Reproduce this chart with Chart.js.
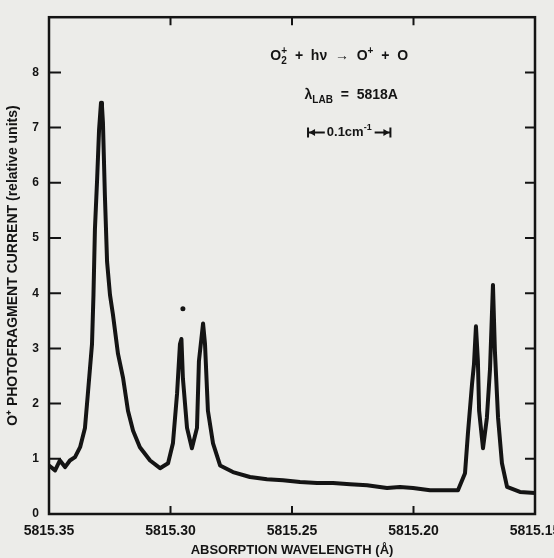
<!DOCTYPE html>
<html>
<head>
<meta charset="utf-8">
<script src="https://cdn.jsdelivr.net/npm/chart.js@4/dist/chart.umd.min.js"></script>
<style>
  html, body { margin: 0; padding: 0; background: #ecece9; }
  canvas { display: block; }
</style>
</head>
<body>
<canvas id="graph" width="554" height="558"></canvas>
<script>
// absorption wavelength (A) and O+ photofragment current (relative units)
const wavelength = [
    5815.3500, 5815.3475, 5815.3455, 5815.3434, 5815.3414, 5815.3393, 5815.3372, 5815.3352,
    5815.3340, 5815.3323, 5815.3317, 5815.3311, 5815.3302, 5815.3294, 5815.3286, 5815.3282,
    5815.3278, 5815.3270, 5815.3261, 5815.3249, 5815.3237, 5815.3216, 5815.3195, 5815.3175,
    5815.3154, 5815.3126, 5815.3084, 5815.3043, 5815.3010, 5815.2990, 5815.2973, 5815.2961,
    5815.2955, 5815.2949, 5815.2932, 5815.2912, 5815.2891, 5815.2883, 5815.2866, 5815.2858,
    5815.2846, 5815.2825, 5815.2796, 5815.2743, 5815.2673, 5815.2603, 5815.2537, 5815.2467,
    5815.2397, 5815.2331, 5815.2261, 5815.2191, 5815.2109, 5815.2056, 5815.2002, 5815.1932,
    5815.1817, 5815.1788, 5815.1776, 5815.1759, 5815.1751, 5815.1743, 5815.1735, 5815.1730,
    5815.1714, 5815.1698, 5815.1685, 5815.1673, 5815.1665, 5815.1652, 5815.1636, 5815.1615,
    5815.1562, 5815.1500
];
const current = [
    0.88, 0.79, 0.97, 0.85, 0.97, 1.03, 1.21, 1.56,
    2.18, 3.08, 3.97, 5.16, 6.06, 6.96, 7.45, 7.39,
    7.09, 5.77, 4.57, 3.97, 3.62, 2.90, 2.46, 1.87,
    1.51, 1.21, 0.97, 0.83, 0.92, 1.28, 2.18, 3.08,
    3.17, 2.46, 1.56, 1.19, 1.56, 2.77, 3.45, 3.08,
    1.87, 1.28, 0.88, 0.76, 0.67, 0.63, 0.61, 0.58,
    0.56, 0.56, 0.54, 0.52, 0.47, 0.49, 0.47, 0.43,
    0.43, 0.74, 1.46, 2.36, 2.72, 3.40, 2.77, 1.87,
    1.19, 1.74, 2.64, 4.15, 2.95, 1.74, 0.92, 0.49,
    0.40, 0.38
];
// the little dot marking the first small line
const dotWavelength = [5815.2949];
const dotCurrent = [3.72];

const xTicks = [5815.35, 5815.30, 5815.25, 5815.20, 5815.15];
const yTicks = [0, 1, 2, 3, 4, 5, 6, 7, 8];

const ink = "#141414";
const fontFamily = '"Liberation Sans", Arial, sans-serif';

// 0.1 cm-1 at 5818 A is about 0.0339 A
const barStart = 5815.2434;
const barWidth = 0.0339;

function drawRuns(ctx, runs, cx, cy, size) {
    const parts = runs.map(([text, kind]) => {
        const s = kind === "n" ? size : Math.round(size * 0.72);
        ctx.font = `bold ${s}px ${fontFamily}`;
        return {text, kind, s, w: ctx.measureText(text).width};
    });
    let total = 0;
    parts.forEach((p, i) => {
        const stacked = p.kind === "sup" && i > 0 && parts[i - 1].kind === "sub";
        if (stacked) {
            p.stack = true;
            total += Math.max(0, p.w - parts[i - 1].w);
        } else {
            total += p.w;
        }
    });
    let x = cx - total / 2;
    ctx.textBaseline = "middle";
    ctx.textAlign = "left";
    parts.forEach((p, i) => {
        ctx.font = `bold ${p.s}px ${fontFamily}`;
        let dy = 0;
        if (p.kind === "sub") dy = size * 0.35;
        if (p.kind === "sup") dy = -size * 0.35;
        if (p.stack) {
            const prev = parts[i - 1];
            ctx.fillText(p.text, x - prev.w, cy + dy);
            x += Math.max(0, p.w - prev.w);
        } else {
            ctx.fillText(p.text, x, cy + dy);
            x += p.w;
        }
    });
}

const framePlugin = {
    id: "frame",
    afterDatasetsDraw(chart) {
        const {ctx, chartArea: a, scales: {x, y}} = chart;
        ctx.save();
        ctx.strokeStyle = ink;
        ctx.lineWidth = 2.5;
        ctx.strokeRect(a.left, a.top, a.right - a.left, a.bottom - a.top);
        ctx.lineWidth = 2;
        ctx.beginPath();
        x.ticks.forEach(t => {
            const px = x.getPixelForValue(t.value);
            ctx.moveTo(px, a.bottom); ctx.lineTo(px, a.bottom - 8);
            ctx.moveTo(px, a.top); ctx.lineTo(px, a.top + 8);
        });
        y.ticks.forEach(t => {
            const py = y.getPixelForValue(t.value);
            ctx.moveTo(a.left, py); ctx.lineTo(a.left + 12, py);
            ctx.moveTo(a.right, py); ctx.lineTo(a.right - 10, py);
        });
        ctx.stroke();

        // text block in the upper right
        ctx.fillStyle = ink;
        const x0 = x.getPixelForValue(barStart);
        const x1 = x.getPixelForValue(barStart - barWidth);
        const mid = (x0 + x1) / 2;
        drawRuns(ctx, [["O", "n"], ["2", "sub"], ["+", "sup"], ["  +  h\u03bd  \u2192  O", "n"], ["+", "sup"], ["  +  O", "n"]],
            mid - 10, y.getPixelForValue(8.29), 14);
        drawRuns(ctx, [["\u03bb", "n"], ["LAB", "sub"], ["  =  5818A", "n"]],
            mid + 2, y.getPixelForValue(7.59), 14);

        // 0.1 cm-1 scale bar
        const by = y.getPixelForValue(6.91);
        ctx.font = `bold 13px ${fontFamily}`;
        const label = "0.1cm";
        const lw = ctx.measureText(label).width;
        ctx.font = `bold 9px ${fontFamily}`;
        const sw = ctx.measureText("-1").width;
        const tw = lw + sw;
        const tx = mid - tw / 2;
        ctx.lineWidth = 2;
        ctx.beginPath();
        ctx.moveTo(x0, by - 5); ctx.lineTo(x0, by + 5);
        ctx.moveTo(x1, by - 5); ctx.lineTo(x1, by + 5);
        ctx.moveTo(x0, by); ctx.lineTo(tx - 2, by);
        ctx.moveTo(tx + tw + 3, by); ctx.lineTo(x1, by);
        ctx.stroke();
        ctx.beginPath();
        ctx.moveTo(x0 + 1, by); ctx.lineTo(x0 + 7, by - 3.5); ctx.lineTo(x0 + 7, by + 3.5);
        ctx.moveTo(x1 - 1, by); ctx.lineTo(x1 - 7, by - 3.5); ctx.lineTo(x1 - 7, by + 3.5);
        ctx.fill();
        ctx.textBaseline = "middle";
        ctx.textAlign = "left";
        ctx.font = `bold 13px ${fontFamily}`;
        ctx.fillText(label, tx, by);
        ctx.font = `bold 9px ${fontFamily}`;
        ctx.fillText("-1", tx + lw, by - 5);
        ctx.restore();
    }
};

const chart = new Chart(document.getElementById("graph"), {
    type: "line",
    data: {
        datasets: [
            {
                data: wavelength.map((w, i) => ({x: w, y: current[i]})),
                borderColor: ink,
                borderWidth: 4,
                borderJoinStyle: "round",
                borderCapStyle: "round",
                pointRadius: 0,
                tension: 0,
            },
            {
                data: dotWavelength.map((w, i) => ({x: w, y: dotCurrent[i]})),
                showLine: false,
                pointRadius: 2.5,
                pointBackgroundColor: ink,
                pointBorderWidth: 0,
            },
        ],
    },
    options: {
        responsive: false,
        animation: false,
        devicePixelRatio: 1,
        layout: {padding: {top: 13, right: 19, left: 0, bottom: 0}},
        plugins: {legend: {display: false}, tooltip: {enabled: false}},
        scales: {
            x: {
                type: "linear",
                reverse: true,
                min: 5815.15,
                max: 5815.35,
                afterBuildTicks: s => { s.ticks = xTicks.map(v => ({value: v})); },
                afterFit: s => { s.height = 44; s.paddingLeft = 0; s.paddingRight = 0; },
                grid: {display: false, drawTicks: false},
                border: {display: false},
                ticks: {
                    color: ink,
                    font: {family: fontFamily, size: 14, weight: "bold"},
                    padding: 9,
                    maxRotation: 0,
                    autoSkip: false,
                    callback: v => v.toFixed(2),
                },
                title: {
                    display: true,
                    text: "ABSORPTION WAVELENGTH (\u00c5)",
                    color: ink,
                    font: {family: fontFamily, size: 13, weight: "bold"},
                    padding: {top: 0, bottom: 0},
                },
            },
            y: {
                min: 0,
                max: 9,
                afterBuildTicks: s => { s.ticks = yTicks.map(v => ({value: v})); },
                afterFit: s => { s.width = 49; },
                grid: {display: false, drawTicks: false},
                border: {display: false},
                ticks: {
                    color: ink,
                    font: {family: fontFamily, size: 12, weight: "bold"},
                    padding: 10,
                },
                title: {
                    display: true,
                    text: "O\u207a PHOTOFRAGMENT CURRENT (relative units)",
                    color: ink,
                    font: {family: fontFamily, size: 14, weight: "bold"},
                    padding: {top: 5, bottom: 0},
                },
            },
        },
    },
    plugins: [framePlugin],
});
</script>
</body>
</html>
